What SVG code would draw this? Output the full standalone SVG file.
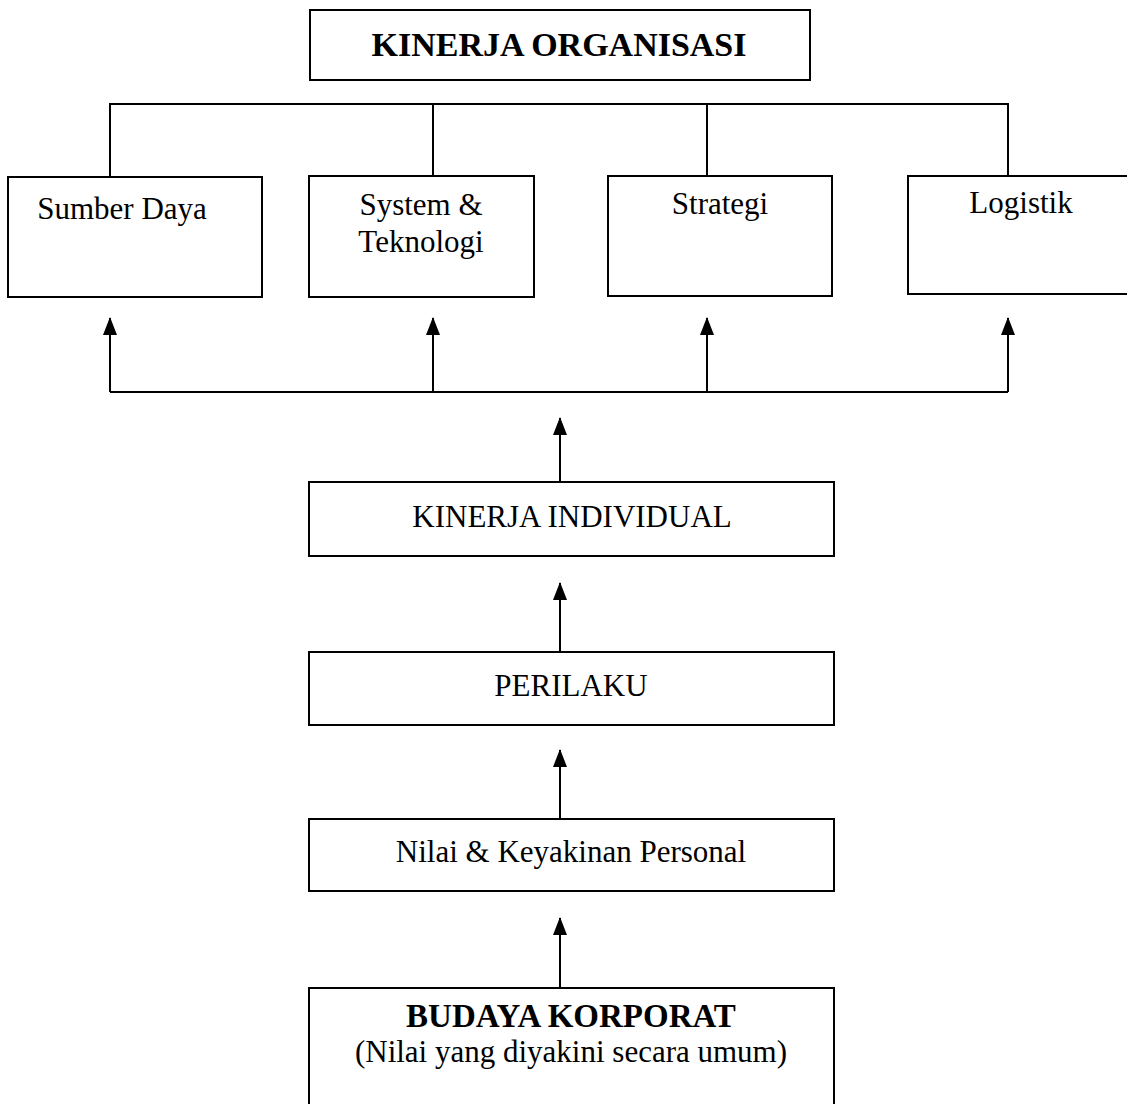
<svg xmlns="http://www.w3.org/2000/svg" width="1127" height="1104" viewBox="0 0 1127 1104">
<style>
.box{fill:#fff;stroke:#000;stroke-width:2}
.ln{fill:none;stroke:#000;stroke-width:2}
text{font-family:"Liberation Serif","Times New Roman",serif;font-size:31px;fill:#000;text-anchor:middle}
.b{font-weight:bold}
</style>
<defs>
<marker id="ah" viewBox="0 0 18 14" refX="17" refY="7" markerWidth="18" markerHeight="14" markerUnits="userSpaceOnUse" orient="auto">
<path d="M18 7 L0 0 L0 14 Z" fill="#000"/>
</marker>
</defs>
<rect width="1127" height="1104" fill="#fff"/>
<g id="connectors">
<path class="ln" d="M110 177 V104 H1008 V176"/>
<path class="ln" d="M433 104 V176"/>
<path class="ln" d="M707 104 V176"/>
<path class="ln" d="M110 392 H1008"/>
<line class="ln" x1="110" y1="392" x2="110" y2="318" marker-end="url(#ah)"/>
<line class="ln" x1="433" y1="392" x2="433" y2="318" marker-end="url(#ah)"/>
<line class="ln" x1="707" y1="392" x2="707" y2="318" marker-end="url(#ah)"/>
<line class="ln" x1="1008" y1="392" x2="1008" y2="318" marker-end="url(#ah)"/>
<line class="ln" x1="560" y1="482" x2="560" y2="418" marker-end="url(#ah)"/>
<line class="ln" x1="560" y1="652" x2="560" y2="583" marker-end="url(#ah)"/>
<line class="ln" x1="560" y1="819" x2="560" y2="750" marker-end="url(#ah)"/>
<line class="ln" x1="560" y1="988" x2="560" y2="918" marker-end="url(#ah)"/>
</g>
<g id="kinerja-organisasi">
<rect class="box" x="310" y="10" width="500" height="70"/>
<text class="b" x="559" y="56" style="font-size:34px">KINERJA ORGANISASI</text>
</g>
<g id="sumber-daya">
<rect class="box" x="8" y="177" width="254" height="120"/>
<text x="122" y="219">Sumber Daya</text>
</g>
<g id="system-teknologi">
<rect class="box" x="309" y="176" width="225" height="121"/>
<text x="421" y="215">System &amp;</text>
<text x="421" y="252">Teknologi</text>
</g>
<g id="strategi">
<rect class="box" x="608" y="176" width="224" height="120"/>
<text x="720" y="214">Strategi</text>
</g>
<g id="logistik">
<rect class="box" x="908" y="176" width="230" height="118"/>
<text x="1021" y="213">Logistik</text>
</g>
<g id="kinerja-individual">
<rect class="box" x="309" y="482" width="525" height="74"/>
<text x="572" y="527">KINERJA INDIVIDUAL</text>
</g>
<g id="perilaku">
<rect class="box" x="309" y="652" width="525" height="73"/>
<text x="571" y="696">PERILAKU</text>
</g>
<g id="nilai-keyakinan">
<rect class="box" x="309" y="819" width="525" height="72"/>
<text x="571" y="862">Nilai &amp; Keyakinan Personal</text>
</g>
<g id="budaya-korporat">
<rect class="box" x="309" y="988" width="525" height="130"/>
<text class="b" x="571" y="1027" style="font-size:33px">BUDAYA KORPORAT</text>
<text x="571" y="1062">(Nilai yang diyakini secara umum)</text>
</g>
</svg>
